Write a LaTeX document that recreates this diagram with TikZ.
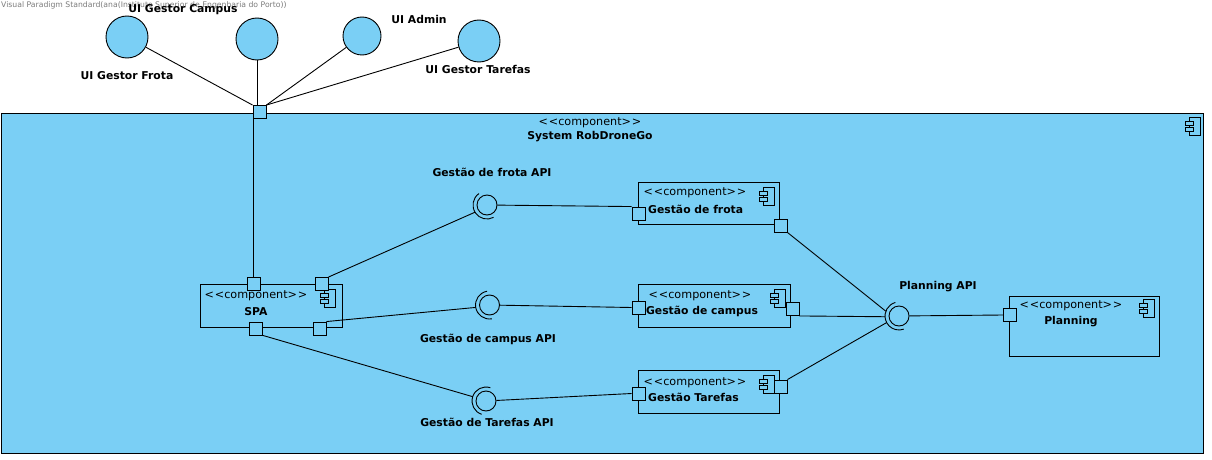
\documentclass[tikz,border=0pt]{standalone}
\usepackage{fontspec}
\setmainfont{DejaVu Sans}
\usetikzlibrary{calc}
\definecolor{vpblue}{RGB}{122,207,245}
\definecolor{wmgray}{RGB}{125,125,125}
\newcommand\stereo{<\kern0.9pt<component>\kern0.9pt>}
\tikzset{
  compicon/.pic={
    \draw[line width=0.8pt, fill=vpblue] (0,0) rectangle (11,18);
    \draw[line width=0.8pt, fill=vpblue] (-4,4) rectangle (4,8);
    \draw[line width=0.8pt, fill=vpblue] (-4,10) rectangle (4,14);
  }
}
\begin{document}
\begin{tikzpicture}[x=1pt,y=-1pt,
  box/.style={draw, fill=vpblue, line width=0.9pt, inner sep=0, anchor=north west},
  port/.style={draw, fill=vpblue, line width=0.9pt, minimum size=13pt, inner sep=0},
  ball/.style={draw, fill=vpblue, circle, line width=0.9pt, minimum size=20pt, inner sep=0},
  actor/.style={draw, fill=vpblue, circle, line width=0.9pt, inner sep=0},
  conn/.style={line width=0.9pt},
  sock/.style={line width=0.9pt},
  lbl/.style={font=\bfseries\fontsize{10.8}{12}\selectfont, inner sep=0},
  ster/.style={font=\fontsize{11.2}{12}\selectfont, inner sep=0},
]
\useasboundingbox (0,0) rectangle (1212,460);
\fill[white] (0,0) rectangle (1212,460);

% watermark
\node[anchor=west, inner sep=0, text=wmgray, font=\fontsize{7.7}{9}\selectfont] (wm) at (1,5)
  {Visual Paradigm Standard(ana(Instituto Superior de Engenharia do Porto))};

% system
\node[box, minimum width=1202pt, minimum height=340pt] (sys) at (1,113) {};
\pic at (1189,117) {compicon};
\node[ster] (sysst) at (590,123) {\stereo};
\node[lbl] (sysname) at (590,137) {System RobDroneGo};

% components
\node[box, minimum width=142pt, minimum height=43pt] (spa) at (200,284) {};
\node[box, minimum width=141pt, minimum height=42pt] (gfr) at (638,182) {};
\node[box, minimum width=152pt, minimum height=43pt] (gca) at (638,284) {};
\node[box, minimum width=141pt, minimum height=43pt] (gta) at (638,370) {};
\node[box, minimum width=150pt, minimum height=60pt] (pla) at (1009,296) {};

\pic at (324,289) {compicon};
\pic at (763,187) {compicon};
\pic at (774,289) {compicon};
\pic at (763,375) {compicon};
\pic at (1143,299) {compicon};

\node[ster] (spast) at (256,296) {\stereo};
\node[lbl] (spaname) at (256,312) {SPA};
\node[ster] (gfrst) at (695,193) {\stereo};
\node[lbl, anchor=west] (gfrname) at (648,209) {Gestão de frota};
\node[ster] (gcast) at (700,296) {\stereo};
\node[lbl] (gcaname) at (702,311) {Gestão de campus};
\node[ster] (gtast) at (695,383) {\stereo};
\node[lbl, anchor=west] (gtaname) at (648,397) {Gestão Tarefas};
\node[ster] (plast) at (1071,306) {\stereo};
\node[lbl] (planame) at (1071,322) {Planning};

% UI actors
\node[actor, minimum size=42pt] (ufr) at (127,37) {};
\node[actor, minimum size=42pt] (uca) at (257,39) {};
\node[actor, minimum size=38pt] (uad) at (362,36) {};
\node[actor, minimum size=42pt] (uta) at (479,41) {};
\node[lbl] (ufrl) at (127,76) {UI Gestor Frota};
\node[lbl] (ucal) at (183,10) {UI Gestor Campus};
\node[lbl] (uadl) at (419,19) {UI Admin};
\node[lbl] (utal) at (478,69) {UI Gestor Tarefas};

% interfaces (balls)
\node[ball] (fapi) at (487,205) {};
\node[ball] (capi) at (489.5,305) {};
\node[ball] (tapi) at (486,401) {};
\node[ball] (papi) at (899,316) {};
\node[lbl] (fapil) at (492,172) {Gestão de frota API};
\node[lbl] (capil) at (488,339) {Gestão de campus API};
\node[lbl] (tapil) at (487,422) {Gestão de Tarefas API};
\node[lbl] (papil) at (938,287) {Planning API};

% sockets
\draw[sock] ($(fapi)+(-125:14)$) arc[start angle=-125, end angle=-298, radius=14];
\draw[sock] ($(capi)+(-100:14)$) arc[start angle=-100, end angle=-280, radius=14];
\draw[sock] ($(tapi)+(-72:14)$) arc[start angle=-72, end angle=-252, radius=14];
\draw[sock] ($(papi)+(-105:14)$) arc[start angle=-105, end angle=-290, radius=14];
\coordinate (fS) at ($(fapi)+(-211:14)$);
\coordinate (cS) at ($(capi)+(-190:14)$);
\coordinate (tS) at ($(tapi)+(-162:14)$);
\coordinate (pS1) at ($(papi)+(-160:14)$);
\coordinate (pS2) at ($(papi)+(-183:14)$);
\coordinate (pS3) at ($(papi)+(-208:14)$);

% ports
\node[port] (p0) at (259.5,112) {};
\node[port] (spt1) at (253.5,284) {};
\node[port] (spt2) at (321.5,284) {};
\node[port] (spb1) at (256,328.5) {};
\node[port] (spb2) at (319.5,328.5) {};
\node[port] (frl) at (638.5,213.5) {};
\node[port] (frr) at (780.5,225.5) {};
\node[port] (cal) at (638.5,307.5) {};
\node[port] (car) at (792.5,309) {};
\node[port] (tal) at (638.5,393.5) {};
\node[port] (tar) at (780.5,386.5) {};
\node[port] (pll) at (1010,315) {};

% connectors
\draw[conn] (ufr) -- (p0.north west);
\draw[conn] (uca) -- (uca |- p0.north);
\draw[conn] (uad) -- (p0.north east);
\draw[conn] (uta) -- (p0.north east);
\draw[conn] (spt1.north) -- (spt1.north |- p0.south);
\draw[conn] (spt2.north east) -- (fS);
\draw[conn] (spb2.north east) -- (cS);
\draw[conn] (spb1.south east) -- (tS);
\draw[conn] (fapi) -- (frl.north west);
\draw[conn] (capi) -- (cal.west);
\draw[conn] (tapi) -- (tal.west);
\draw[conn] (frr.south east) -- (pS1);
\draw[conn] (car.south east) -- (pS2);
\draw[conn] (tar.north east) -- (pS3);
\draw[conn] (papi) -- (pll.west);
\end{tikzpicture}
\end{document}
